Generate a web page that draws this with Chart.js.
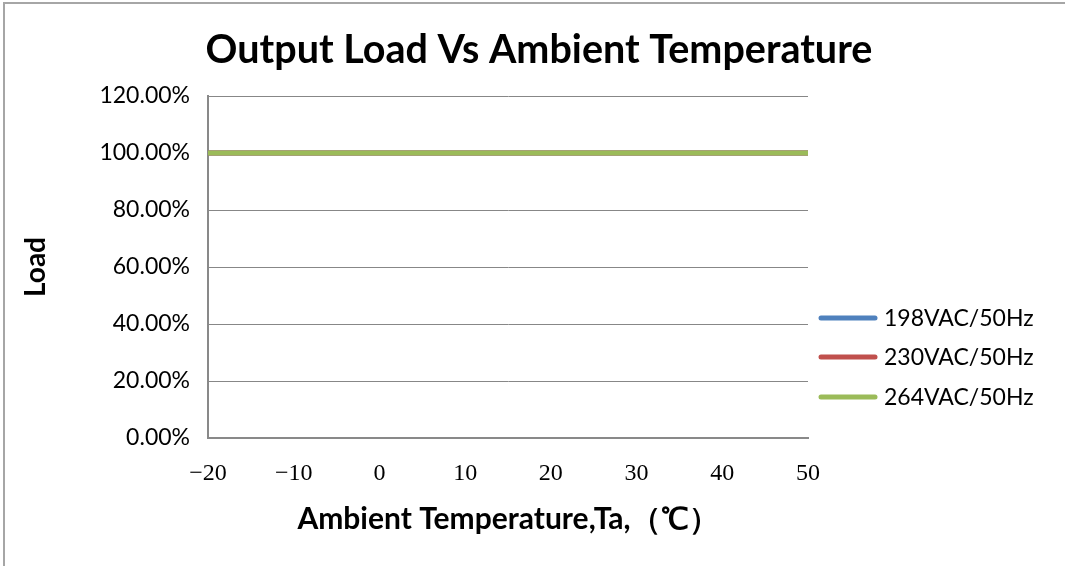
<!DOCTYPE html>
<html>
<head>
<meta charset="utf-8">
<script src="https://cdn.jsdelivr.net/npm/chart.js@4.4.1/dist/chart.umd.min.js"></script>
<style>
  html, body { margin: 0; padding: 0; background: #fff; }
  #wrap { position: relative; width: 1065px; height: 566px; overflow: hidden; }
  #frame { position: absolute; left: 3px; top: 2px; width: 1100px; height: 600px;
           border-left: 2px solid #a6a6a6; border-top: 2px solid #a6a6a6; pointer-events: none; }
  canvas { position: absolute; left: 0; top: 0; }
</style>
</head>
<body>
<div id="wrap">
  <canvas id="c" width="1065" height="566"></canvas>
  <div id="frame"></div>
</div>
<script>
// ---- data ----
const temperatures = [-20, -10, 0, 10, 20, 30, 40, 50];
const load198 = [100, 100, 100, 100, 100, 100, 100, 100];
const load230 = [100, 100, 100, 100, 100, 100, 100, 100];
const load264 = [100, 100, 100, 100, 100, 100, 100, 100];
const seriesNames = ['198VAC/50Hz', '230VAC/50Hz', '264VAC/50Hz'];
const seriesColors = ['#4F81BD', '#C0504D', '#9BBB59'];
const chartTitle = 'Output Load Vs Ambient Temperature';
const xTitle = 'Ambient Temperature,Ta,（℃）';
const yTitle = 'Load';

const toPoints = arr => temperatures.map((t, i) => ({ x: t, y: arr[i] }));

const sideLegend = {
  id: 'sideLegend',
  afterDraw(chart) {
    const ctx = chart.ctx;
    const ys = [318, 357, 397];
    ctx.save();
    chart.data.datasets.forEach((ds, i) => {
      ctx.strokeStyle = ds.borderColor;
      ctx.lineWidth = 5;
      ctx.lineCap = 'round';
      ctx.beginPath();
      ctx.moveTo(821, ys[i]);
      ctx.lineTo(875, ys[i]);
      ctx.stroke();
      ctx.fillStyle = '#000';
      ctx.font = '23px Lato';
      ctx.textBaseline = 'middle';
      ctx.textAlign = 'left';
      ctx.fillText(ds.label, 884, ys[i] + 1);
    });
    ctx.restore();
  }
};

const topTitle = {
  id: 'topTitle',
  afterDraw(chart) {
    const ctx = chart.ctx;
    ctx.save();
    ctx.fillStyle = '#000';
    ctx.font = 'bold 39.5px Lato';
    ctx.textAlign = 'center';
    ctx.textBaseline = 'middle';
    ctx.fillText(chartTitle, 539, 50);
    ctx.restore();
  }
};

new Chart(document.getElementById('c'), {
  type: 'line',
  data: {
    datasets: [
      { label: seriesNames[0], data: toPoints(load198), borderColor: seriesColors[0], backgroundColor: seriesColors[0], borderWidth: 5, pointRadius: 0, order: 3 },
      { label: seriesNames[1], data: toPoints(load230), borderColor: seriesColors[1], backgroundColor: seriesColors[1], borderWidth: 5, pointRadius: 0, order: 2 },
      { label: seriesNames[2], data: toPoints(load264), borderColor: seriesColors[2], backgroundColor: seriesColors[2], borderWidth: 5, pointRadius: 0, order: 1 }
    ]
  },
  options: {
    responsive: false,
    animation: false,
    devicePixelRatio: 1,
    layout: { padding: { left: 0, right: 257, top: 96, bottom: 0 } },
    plugins: {
      legend: { display: false },
      title: { display: false },
      tooltip: { enabled: false }
    },
    scales: {
      x: {
        type: 'linear',
        min: -20, max: 50,
        afterFit(scale) { scale.height = 128; },
        grid: { display: false, drawTicks: false },
        border: { display: true, color: '#898989', width: 2 },
        ticks: {
          stepSize: 10,
          padding: 21,
          color: '#000',
          font: { family: 'Liberation Serif', size: 24 },
          callback: v => String(v).replace('-', '−')
        },
        title: {
          display: true,
          text: xTitle,
          color: '#000',
          font: { family: 'Lato', size: 30, weight: 'bold' },
          padding: { top: 0, bottom: 29 }
        }
      },
      y: {
        min: 0, max: 120,
        afterFit(scale) { scale.width = 208; },
        grid: { color: '#878787', lineWidth: 1, drawTicks: false },
        border: { display: true, color: '#898989', width: 2 },
        ticks: {
          stepSize: 20,
          padding: 18,
          color: '#000',
          font: { family: 'Lato', size: 23 },
          callback: v => v.toFixed(2) + '%'
        },
        title: {
          display: true,
          text: yTitle,
          color: '#000',
          font: { family: 'Lato', size: 28, weight: 'bold' },
          padding: { top: 19, bottom: 0 }
        }
      }
    }
  },
  plugins: [topTitle, sideLegend]
});
</script>
</body>
</html>
